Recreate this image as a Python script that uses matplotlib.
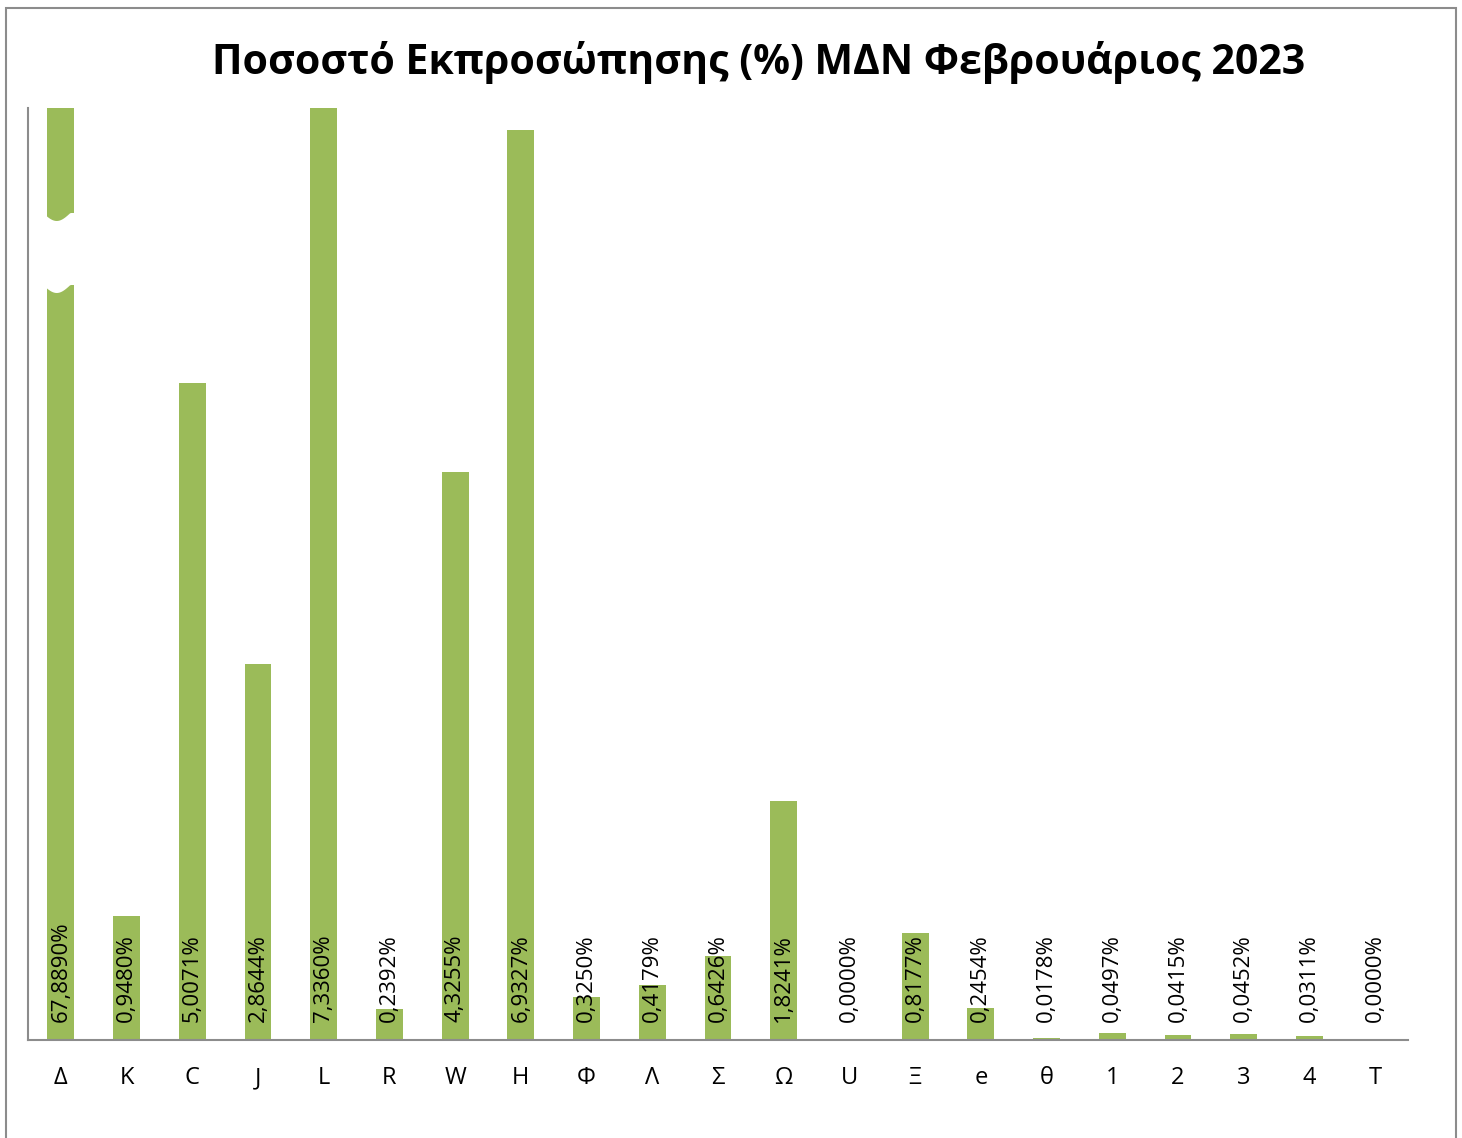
import matplotlib
matplotlib.use("Agg")
import matplotlib.pyplot as plt
from matplotlib.patches import Rectangle, Polygon
from matplotlib.transforms import blended_transform_factory
import numpy as np

categories = ["Δ", "K", "C", "J", "L", "R", "W", "H", "Φ", "Λ", "Σ", "Ω", "U", "Ξ", "e", "θ",
              "1", "2", "3", "4", "T"]
values = [67.8890, 0.9480, 5.0071, 2.8644, 7.3360, 0.2392, 4.3255, 6.9327, 0.3250, 0.4179,
          0.6426, 1.8241, 0.0000, 0.8177, 0.2454, 0.0178, 0.0497, 0.0415, 0.0452, 0.0311, 0.0000]
title = "Ποσοστό Εκπροσώπησης (%) ΜΔΝ Φεβρουάριος 2023"

W, H = 1462, 1138
fam = ["Open Sans", "DejaVu Sans"]
plt.rcParams["font.family"] = fam

fig = plt.figure(figsize=(W / 100, H / 100), dpi=100)
fig.patch.set_facecolor("white")

# outer border
fig.patches.append(Rectangle((5.5 / W, -0.01), (1456 - 5.5) / W, 1 - 7.5 / H + 0.01,
                             transform=fig.transFigure, fill=False, edgecolor="#8c8c8c",
                             linewidth=1.5))

ax = fig.add_axes([28 / W, 1 - 1040 / H, (1408 - 28) / W, (1040 - 108) / H])
x = np.arange(len(categories))
bar_color = "#9BBB59"
ax.bar(x, values, width=0.41, color=bar_color, zorder=2)
ax.set_xlim(-0.5, len(categories) - 0.5)
ax.set_ylim(0, 7.1)

# axis break marker on the first bar
tr = blended_transform_factory(ax.transData, ax.transAxes)
def yfrac(py):
    return (1040 - py) / (1040 - 108)
xs = np.linspace(-0.27, 0.27, 30)
t = (xs + 0.27) / 0.54
curve = 8 * np.sin(np.pi * np.clip(t * 1.3, 0, 1))
top = [(xx, yfrac(213 + c)) for xx, c in zip(xs, curve)]
bot = [(xx, yfrac(285 + c)) for xx, c in zip(xs[::-1], curve[::-1])]
ax.add_patch(Polygon(top + bot, closed=True, transform=tr, facecolor="white",
                     edgecolor="none", zorder=3))

for xi, v in zip(x, values):
    lbl = f"{v:.4f}".replace(".", ",") + "%"
    ax.annotate(lbl, (xi, 0), xytext=(0, 13), textcoords="offset points",
                rotation=90, ha="center", va="bottom", fontsize=16, color="black",
                zorder=4)

ax.set_xticks(x)
ax.set_xticklabels(categories, fontsize=17)
ax.tick_params(axis="x", length=0, pad=19)
ax.set_yticks([])
for s in ["top", "right"]:
    ax.spines[s].set_visible(False)
ax.spines["left"].set_color("#8c8c8c")
ax.spines["bottom"].set_color("#8c8c8c")
ax.spines["left"].set_linewidth(1.5)
ax.spines["bottom"].set_linewidth(1.5)

fig.text(759 / W, 1 - 63 / H, title, ha="center", va="center", fontsize=29.5,
         fontweight="bold")

fig.savefig("out.png", dpi=100)
